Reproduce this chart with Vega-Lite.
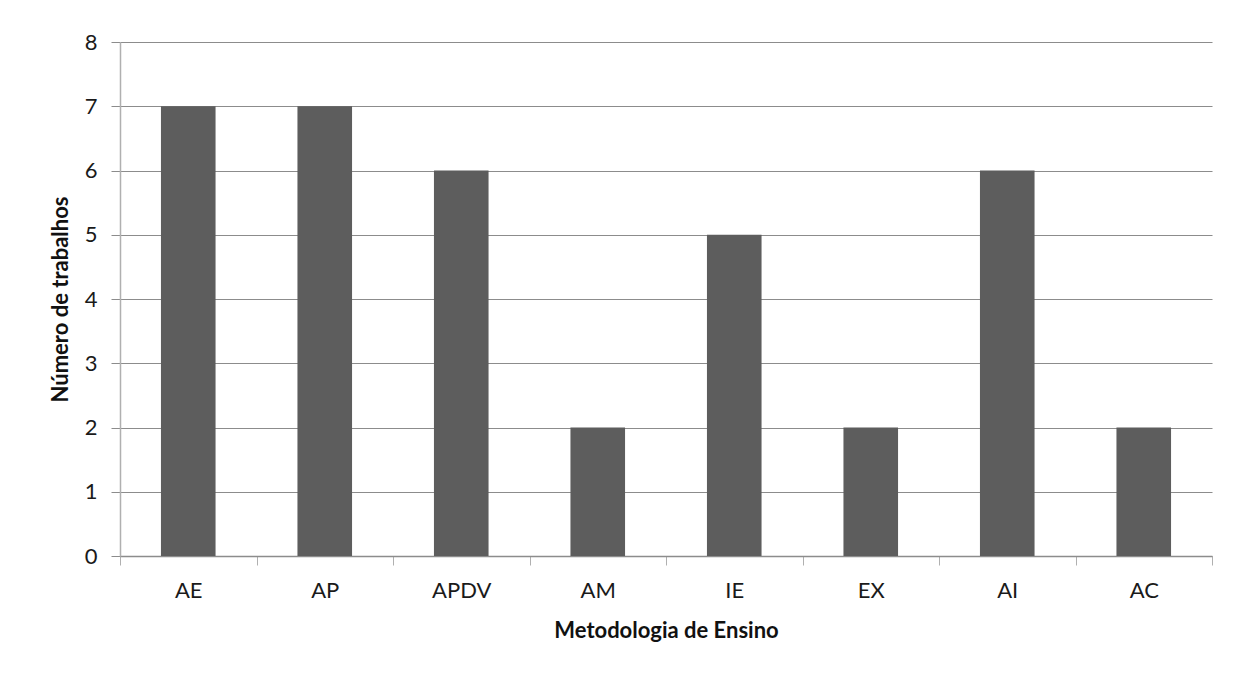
{
  "$schema": "https://vega.github.io/schema/vega-lite/v6.json",
  "autosize": {"type": "none"},
  "padding": {"left": 120, "top": 42, "right": 29, "bottom": 117},
  "width": 1092,
  "height": 514,
  "background": "white",
  "data": {
    "values": [
      {"metodologia": "AE", "trabalhos": 7},
      {"metodologia": "AP", "trabalhos": 7},
      {"metodologia": "APDV", "trabalhos": 6},
      {"metodologia": "AM", "trabalhos": 2},
      {"metodologia": "IE", "trabalhos": 5},
      {"metodologia": "EX", "trabalhos": 2},
      {"metodologia": "AI", "trabalhos": 6},
      {"metodologia": "AC", "trabalhos": 2}
    ]
  },
  "mark": {"type": "bar", "color": "#5d5d5d", "width": {"band": 0.4}},
  "encoding": {
    "x": {
      "field": "metodologia",
      "type": "nominal",
      "sort": null,
      "scale": {"paddingInner": 0, "paddingOuter": 0},
      "axis": {
        "title": "Metodologia de Ensino",
        "labelAngle": 0,
        "tickBand": "extent",
        "tickSize": 9,
        "labelPadding": 15,
        "titlePadding": 19,
        "domainColor": "#8c8c8c",
        "tickColor": "#b0b0b0",
        "grid": false
      }
    },
    "y": {
      "field": "trabalhos",
      "type": "quantitative",
      "scale": {"domain": [0, 8], "nice": false},
      "axis": {
        "title": "Número de trabalhos",
        "values": [0, 1, 2, 3, 4, 5, 6, 7, 8],
        "tickSize": 9,
        "labelPadding": 14,
        "titlePadding": 12,
        "domainColor": "#b0b0b0",
        "tickColor": "#8c8c8c",
        "gridColor": "#8c8c8c",
        "grid": true
      }
    }
  },
  "config": {
    "view": {"stroke": null},
    "axis": {
      "labelFont": "Lato",
      "labelFontSize": 22,
      "labelColor": "#1a1a1a",
      "titleFont": "Lato",
      "titleFontSize": 22,
      "titleFontWeight": "bold",
      "titleColor": "#111111",
      "domainWidth": 1.5,
      "gridWidth": 1.2
    }
  }
}
